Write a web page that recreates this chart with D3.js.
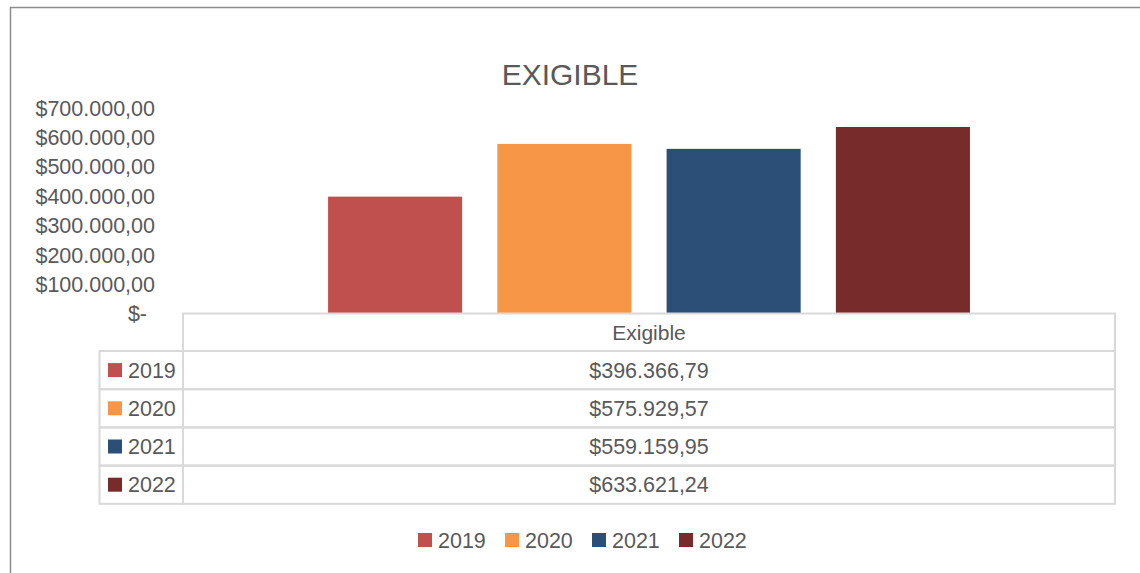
<!DOCTYPE html>
<html>
<head>
<meta charset="utf-8">
<script src="https://cdn.jsdelivr.net/npm/d3@7"></script>
<style>
  body { margin: 0; background: #fff; }
  svg text { font-family: "Liberation Sans", Arial, sans-serif; fill: #595959; }
</style>
</head>
<body>
<svg id="main"></svg>
<script>
var categories = ["Exigible"];
var years = ["2019", "2020", "2021", "2022"];
var values = [396366.79, 575929.57, 559159.95, 633621.24];
var colors = ["#C0504D", "#F79646", "#2C4F77", "#772B2A"];
var yTicks = [0, 100000, 200000, 300000, 400000, 500000, 600000, 700000];
var title = "EXIGIBLE";

var width = 1140, height = 573;
var svg = d3.select("#main")
    .attr("width", width)
    .attr("height", height);

// chart frame (cropped on the right and bottom)
svg.append("rect")
    .attr("x", 10.5).attr("y", 7.5)
    .attr("width", 1160).attr("height", 600)
    .attr("fill", "#fff")
    .attr("stroke", "#8c8c8c")
    .attr("stroke-width", 1.5);

// title
svg.append("text")
    .attr("x", 570).attr("y", 85)
    .attr("text-anchor", "middle")
    .style("font-size", "30px")
    .text(title);

// scales
var tableLeft = 183, tableRight = 1115;
var x0 = d3.scaleBand()
    .domain(categories)
    .range([tableLeft, tableRight])
    .paddingOuter(0.226);
var x1 = d3.scaleBand()
    .domain(years)
    .range([0, x0.bandwidth()])
    .paddingInner(0.208);
var y = d3.scaleLinear()
    .domain([0, 700000])
    .range([313, 107.5]);

// Y axis
var fmt = function (d) {
    if (d === 0) return "$-";
    return "$" + d3.format(",.2f")(d).replace(/,/g, "#").replace(".", ",").replace(/#/g, ".");
};
var yAxis = svg.append("g")
    .attr("transform", "translate(157,0)")
    .call(d3.axisLeft(y).tickValues(yTicks).tickSize(0).tickPadding(2).tickFormat(fmt));
yAxis.select(".domain").remove();
yAxis.selectAll("text")
    .style("font-size", "21.5px")
    .attr("fill", "#595959")
    .attr("dy", "0.36em");
yAxis.selectAll(".tick").filter(function (d) { return d === 0; })
    .select("text").attr("x", -10);

// bars
svg.append("g")
    .selectAll("rect")
    .data(years)
    .enter()
    .append("rect")
      .attr("x", function (d) { return x0("Exigible") + x1(d); })
      .attr("y", function (d, i) { return y(values[i]); })
      .attr("width", x1.bandwidth())
      .attr("height", function (d, i) { return y(0) - y(values[i]); })
      .attr("fill", function (d, i) { return colors[i]; });

// data table
var rowTop = 313.5, headerH = 37.5, rowH = 38.2, leftCol = 99.5;
var grid = "#d9d9d9";
var tbl = svg.append("g");
// header cell
tbl.append("rect")
    .attr("x", tableLeft).attr("y", rowTop)
    .attr("width", tableRight - tableLeft).attr("height", headerH)
    .attr("fill", "none").attr("stroke", grid).attr("stroke-width", 2);
tbl.append("text")
    .attr("x", (tableLeft + tableRight) / 2).attr("y", rowTop + headerH / 2)
    .attr("dy", "0.36em")
    .attr("text-anchor", "middle")
    .style("font-size", "21px")
    .text(categories[0]);

var rows = tbl.selectAll(".row")
    .data(years)
    .enter()
    .append("g")
      .attr("class", "row")
      .attr("transform", function (d, i) { return "translate(0," + (rowTop + headerH + i * rowH) + ")"; });
rows.append("rect")
    .attr("x", leftCol).attr("y", 0)
    .attr("width", tableLeft - leftCol).attr("height", rowH)
    .attr("fill", "none").attr("stroke", grid).attr("stroke-width", 2);
rows.append("rect")
    .attr("x", tableLeft).attr("y", 0)
    .attr("width", tableRight - tableLeft).attr("height", rowH)
    .attr("fill", "none").attr("stroke", grid).attr("stroke-width", 2);
rows.append("rect")
    .attr("x", 108).attr("y", rowH / 2 - 7)
    .attr("width", 14).attr("height", 14)
    .attr("fill", function (d, i) { return colors[i]; });
rows.append("text")
    .attr("x", 128).attr("y", rowH / 2)
    .attr("dy", "0.36em")
    .style("font-size", "21.5px")
    .text(function (d) { return d; });
rows.append("text")
    .attr("x", (tableLeft + tableRight) / 2).attr("y", rowH / 2)
    .attr("dy", "0.36em")
    .attr("text-anchor", "middle")
    .style("font-size", "21.5px")
    .text(function (d, i) { return fmt(values[i]); });

// legend
var legendX = [418, 505, 592, 679];
var legend = svg.append("g")
    .selectAll("g")
    .data(years)
    .enter()
    .append("g")
      .attr("transform", function (d, i) { return "translate(" + legendX[i] + ",540)"; });
legend.append("rect")
    .attr("x", 0).attr("y", -7)
    .attr("width", 14).attr("height", 14)
    .attr("fill", function (d, i) { return colors[i]; });
legend.append("text")
    .attr("x", 20).attr("y", 0)
    .attr("dy", "0.36em")
    .style("font-size", "21.5px")
    .text(function (d) { return d; });
</script>
</body>
</html>
